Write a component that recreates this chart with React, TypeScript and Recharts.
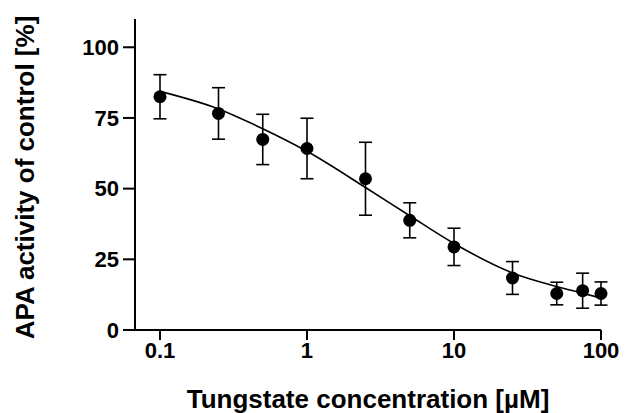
import React from "react";
import {
  ComposedChart,
  Scatter,
  Line,
  XAxis,
  YAxis,
  ErrorBar,
} from "recharts";

// measured points (tungstate µM vs % of control APA activity)
const concentrations = [0.1, 0.25, 0.5, 1, 2.5, 5, 10, 25, 50, 75, 100];
const activity = [82.5, 76.6, 67.4, 64.2, 53.5, 38.8, 29.4, 18.4, 12.9, 13.9, 12.9];
const sd = [7.8, 9.1, 8.9, 10.7, 12.9, 6.2, 6.6, 5.8, 4.0, 6.2, 4.1];

// fitted curve
const fitConcentrations = [0.1, 0.25, 0.5, 1, 2.5, 5, 10, 25, 50, 75, 100];
const fitActivity = [84.4, 78.2, 71.2, 63.2, 50.4, 40.4, 30.6, 20.2, 15.4, 13.0, 11.3];

const xTicks = [0.1, 1, 10, 100];
const yTicks = [0, 25, 50, 75, 100];

const points = concentrations.map((c, i) => ({ x: c, y: activity[i], err: sd[i] }));
const fit = fitConcentrations.map((c, i) => ({ x: c, y: fitActivity[i] }));

const FONT = "'Liberation Sans', Arial, sans-serif";
const tickStyle = { fontSize: 22, fontWeight: 700, fill: "#000", fontFamily: FONT };

const Dot = (props: any) => <circle cx={props.cx} cy={props.cy} r={6.5} fill="#000" />;

export default function App() {
  return (
    <div style={{ position: "absolute", left: 0, top: 0, background: "#fff" }}>
      <ComposedChart
        width={626}
        height={413}
        margin={{ top: 19, right: 25, bottom: 0, left: 0 }}
      >
        <XAxis
          dataKey="x"
          type="number"
          scale="log"
          domain={[0.0676, 100]}
          ticks={xTicks}
          height={83}
          tick={tickStyle}
          tickSize={10}
          tickMargin={2}
          axisLine={{ stroke: "#000", strokeWidth: 2 }}
          tickLine={{ stroke: "#000", strokeWidth: 2 }}
          label={{
            value: "Tungstate concentration [µM]",
            position: "center",
            dy: 27,
            style: { fontSize: 26, fontWeight: 700, fill: "#000", fontFamily: FONT },
          }}
        />
        <YAxis
          type="number"
          domain={[0, 110]}
          ticks={yTicks}
          width={135}
          tick={tickStyle}
          tickSize={12}
          tickMargin={4}
          axisLine={{ stroke: "#000", strokeWidth: 2 }}
          tickLine={{ stroke: "#000", strokeWidth: 2 }}
          label={{
            value: "APA activity of control [%]",
            position: "center",
            angle: -90,
            dx: -43,
            dy: 3,
            style: { fontSize: 26, fontWeight: 700, fill: "#000", fontFamily: FONT },
          }}
        />
        <Line
          data={fit}
          dataKey="y"
          type="monotone"
          stroke="#000"
          strokeWidth={1.6}
          dot={false}
          activeDot={false}
          isAnimationActive={false}
        />
        <Scatter data={points} dataKey="y" shape={Dot} isAnimationActive={false}>
          <ErrorBar
            dataKey="err"
            direction="y"
            width={6.5}
            stroke="#000"
            strokeWidth={1.6}
            isAnimationActive={false}
          />
        </Scatter>
      </ComposedChart>
    </div>
  );
}
